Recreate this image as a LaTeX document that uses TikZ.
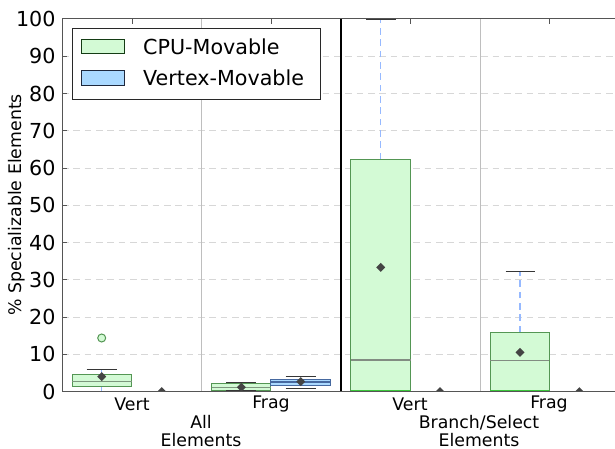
\documentclass[tikz,border=0pt]{standalone}
\usepackage{fontspec}
\setmainfont{DejaVu Sans}
\definecolor{boxgreen}{RGB}{211,250,213}
\definecolor{edgegreen}{RGB}{84,150,84}
\definecolor{boxblue}{RGB}{170,217,255}
\definecolor{edgeblue}{RGB}{70,105,160}
\definecolor{whiskblue}{RGB}{150,185,255}
\definecolor{meangray}{RGB}{68,68,68}
\definecolor{gridgray}{RGB}{215,215,215}
\tikzset{every picture/.style={line width=0.75pt}}
\tikzset{
  gbox/.style={draw=edgegreen, fill=boxgreen, line width=0.75pt},
  bbox/.style={draw=edgeblue, fill=boxblue, line width=0.75pt},
  medline/.style={draw={rgb,255:red,125;green,150;blue,125}, line width=0.9pt},
  whisk/.style={draw=whiskblue, dash pattern=on 5pt off 3.5pt, line width=0.9pt},
  capline/.style={draw=meangray!80!black, line width=1.1pt},
  meanmark/.style={fill=meangray, draw=none},
  gridline/.style={draw=gridgray, dash pattern=on 5pt off 3.5pt, line width=0.75pt},
  ticklab/.style={font=\fontsize{15.5}{16}\selectfont, anchor=east, inner sep=0pt},
  catlab/.style={font=\fontsize{13}{14}\selectfont, inner sep=0pt},
  leglab/.style={font=\fontsize{15.5}{16}\selectfont, anchor=west, inner sep=0pt}
}

\begin{document}
\begin{tikzpicture}[x=0.75pt,y=0.75pt,yscale=-1,xscale=1]
\useasboundingbox (0,0) rectangle (615,449);

% grid lines
\foreach \gy in {354.4,317.2,279.9,242.6,205.4,168.1,130.8,93.5,56.3} {
  \draw [gridline] (62,\gy) -- (615,\gy);
}
% group separators
\draw [color={rgb, 255:red, 190; green, 190; blue, 190 }] (201,19) -- (201,391.7);
\draw [color={rgb, 255:red, 190; green, 190; blue, 190 }] (480,19) -- (480,391.7);
\draw [line width=1.6pt] (341,19) -- (341,391.7);

\begin{scope}
\clip (62,19) rectangle (615,391.7);
% All elements, Vert, CPU-Movable
\draw [whisk] (101.7,375) -- (101.7,369.3);
\draw [whisk] (101.7,386.7) -- (101.7,391.7);
\draw [gbox] (72,375) rectangle (131.7,386.7);
\draw [medline] (72,381.7) -- (131.7,381.7);
\draw [capline] (86.7,369.3) -- (116.7,369.3);
\draw [meanmark] (101.7,372.2) -- (106.2,376.7) -- (101.7,381.2) -- (97.2,376.7) -- cycle;
\draw [draw=edgegreen, fill=boxgreen] (101.7,338) circle (4);
% All elements, Vert, Vertex-Movable
\draw [bbox, draw=meangray] (131.7,391.2) rectangle (191.7,391.7);
\draw [meanmark] (161.7,387.2) -- (166.2,391.7) -- (161.7,396.2) -- (157.2,391.7) -- cycle;
% All elements, Frag, CPU-Movable
\draw [gbox] (211.7,383.3) rectangle (270.7,390.7);
\draw [medline] (211.7,387.3) -- (270.7,387.3);
\draw [capline] (226,382.3) -- (256,382.3);
\draw [capline] (226,390.7) -- (256,390.7);
\draw [meanmark] (241.3,382.8) -- (245.8,387.3) -- (241.3,391.8) -- (236.8,387.3) -- cycle;
% All elements, Frag, Vertex-Movable
\draw [bbox] (270.7,379.3) rectangle (330,385.7);
\draw [medline, draw=edgeblue] (270.7,382) -- (330,382);
\draw [capline] (285.7,376.7) -- (315.7,376.7);
\draw [capline] (285.7,388.3) -- (315.7,388.3);
\draw [meanmark] (300.7,377.2) -- (305.2,381.7) -- (300.7,386.2) -- (296.2,381.7) -- cycle;
% Branch/Select, Vert, CPU-Movable
\draw [whisk] (380.7,159.3) -- (380.7,19);
\draw [gbox] (350.7,159.3) rectangle (410.7,391.7);
\draw [draw={rgb, 255:red, 60; green, 200; blue, 60 }, line width=1.2pt] (350.7,391) -- (410.7,391);
\draw [medline, draw={rgb, 255:red, 130; green, 140; blue, 130 }] (350.7,360) -- (410.7,360);
\draw [capline] (366,19.6) -- (395.7,19.6);
\draw [meanmark] (380.7,262.8) -- (385.2,267.3) -- (380.7,271.8) -- (376.2,267.3) -- cycle;
% Branch/Select, Vert, Vertex-Movable
\draw [meanmark] (440,387.2) -- (444.5,391.7) -- (440,396.2) -- (435.5,391.7) -- cycle;
% Branch/Select, Frag, CPU-Movable
\draw [whisk] (520,332.3) -- (520,271.3);
\draw [gbox] (490.3,332.3) rectangle (549.3,391.7);
\draw [draw={rgb, 255:red, 60; green, 200; blue, 60 }, line width=1.2pt] (490.3,391) -- (549.3,391);
\draw [medline, draw={rgb, 255:red, 130; green, 140; blue, 130 }] (490.3,360.7) -- (549.3,360.7);
\draw [capline] (505.7,271.3) -- (535.3,271.3);
\draw [meanmark] (520,347.8) -- (524.5,352.3) -- (520,356.8) -- (515.5,352.3) -- cycle;
% Branch/Select, Frag, Vertex-Movable
\draw [meanmark] (579.3,387.2) -- (583.8,391.7) -- (579.3,396.2) -- (574.8,391.7) -- cycle;
\end{scope}

% axes frame and ticks
\draw [color={rgb, 255:red, 85; green, 85; blue, 85 }] (615,19) -- (62,19) -- (62,391.7) -- (615,391.7);
\foreach \tx in {132,271,410,549} {
  \draw [color={rgb, 255:red, 85; green, 85; blue, 85 }] (\tx,19) -- (\tx,24);
}
\foreach \gy in {354.4,317.2,279.9,242.6,205.4,168.1,130.8,93.5,56.3} {
  \draw [color={rgb, 255:red, 85; green, 85; blue, 85 }] (62,\gy) -- (67,\gy);
}

% y tick labels
\foreach \v [count=\i from 0] in {0,10,20,30,40,50,60,70,80,90,100} {
  \node [ticklab] (yt\i) at (56,391.7-37.27*\i) {\v};
}
% y axis label
\node [catlab, rotate=90] (ylab) at (17,205) {\% Specializable Elements};

% category labels
\node [catlab] (vertA) at (132,404) {Vert};
\node [catlab] (fragA) at (271,404) {Frag};
\node [catlab] (vertB) at (410,404) {Vert};
\node [catlab] (fragB) at (549,404) {Frag};
\node [catlab, align=center] (grpA) at (201,431) {All\\[-1pt]Elements};
\node [catlab, align=center] (grpB) at (479,431) {Branch/Select\\[-1pt]Elements};

% legend
\draw [fill=white, draw={rgb, 255:red, 40; green, 40; blue, 40 }] (72.7,29) rectangle (320.7,100);
\draw [fill=boxgreen, draw={rgb, 255:red, 20; green, 60; blue, 20 }] (81,40) rectangle (124.3,54);
\draw [fill=boxblue, draw={rgb, 255:red, 30; green, 40; blue, 60 }] (81,70.7) rectangle (124.3,85.3);
\node [leglab] (legcpu) at (142.7,47) {CPU-Movable};
\node [leglab] (legvtx) at (142.7,78) {Vertex-Movable};

\end{tikzpicture}
\end{document}
